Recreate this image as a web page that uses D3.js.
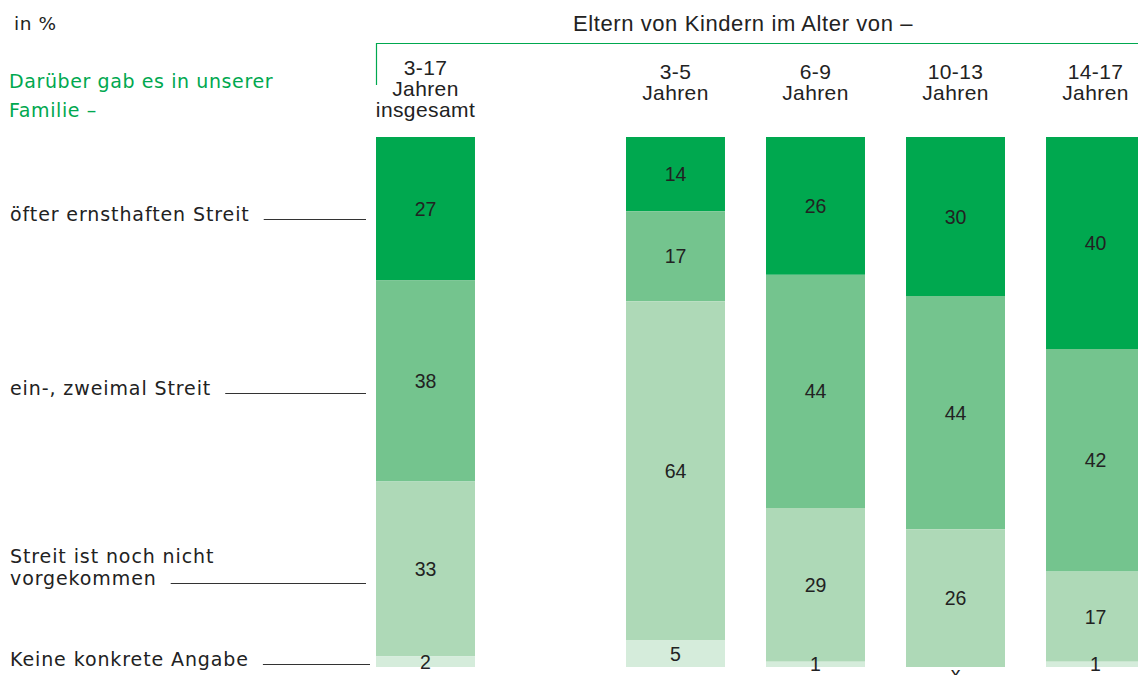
<!DOCTYPE html>
<html>
<head>
<meta charset="utf-8">
<script src="https://cdn.jsdelivr.net/npm/d3@7"></script>
<style>
  body { margin: 0; background: #fff; }
  svg { display: block; }
  .head { font-family: "Liberation Sans", Arial, sans-serif; }
  .lab { font-family: "DejaVu Sans", Verdana, sans-serif; }
  .val { font-family: "Liberation Sans", Arial, sans-serif; }
</style>
</head>
<body>
<svg width="1138" height="675"></svg>
<script>
"use strict"

// column headers (total column first, then the age groups)
const totalLabel = ["3-17", "Jahren", "insgesamt"]
const groups = ["3-5", "6-9", "10-13", "14-17"]

// answer categories, from top of the bar to bottom
const answers = [
    ["öfter ernsthaften Streit"],
    ["ein-, zweimal Streit"],
    ["Streit ist noch nicht", "vorgekommen"],
    ["Keine konkrete Angabe"]
]

// values in %, total column first; null = "x" (no value)
const often = [27, 14, 26, 30, 40]
const onceTwice = [38, 17, 44, 44, 42]
const never = [33, 64, 29, 26, 17]
const noAnswer = [2, 5, 1, null, 1]

const colors = ["#00a84f", "#74c48e", "#aed9b7", "#d5ecdb"]
const green = "#00a84f"
const textColor = "#222"

let svg = d3.select("svg")

let y = d3.scaleLinear().domain([0, 100]).range([137, 667])

let xTotal = d3.scaleBand().domain(["total"]).range([376, 475])
let xGroup = d3.scaleBand().domain(groups).range([626, 1145])
    .paddingInner(0.293).paddingOuter(0)

let columns = ["total"].concat(groups)
let colX = (c) => c === "total" ? xTotal(c) : xGroup(c)
let bw = xGroup.bandwidth()

// stack the four series per column
let series = [often, onceTwice, never, noAnswer]
let stacked = columns.map((c, i) => {
    let acc = 0
    return series.map((s, k) => {
        let v = s[i] === null ? 0 : s[i]
        let seg = {col: c, k: k, raw: s[i], y0: acc, y1: acc + v}
        acc += v
        return seg
    })
})

let bars = svg.append("g")
stacked.forEach(col => {
    bars.selectAll(null)
        .data(col)
        .enter().append("rect")
        .attr("x", d => colX(d.col))
        .attr("y", d => y(d.y0))
        .attr("width", bw)
        .attr("height", d => y(d.y1) - y(d.y0))
        .attr("fill", d => colors[d.k])

    bars.selectAll(null)
        .data(col)
        .enter().append("text")
        .attr("class", "val")
        .attr("x", d => colX(d.col) + bw / 2)
        .attr("y", d => d.raw === null ? y(100) + 7 : (y(d.y0) + y(d.y1)) / 2)
        .attr("dy", "0.36em")
        .attr("text-anchor", "middle")
        .attr("font-size", 19.5)
        .attr("fill", textColor)
        .text(d => d.raw === null ? "x" : d.raw)
})

// top header
svg.append("text")
    .attr("class", "lab")
    .attr("x", 14).attr("y", 30)
    .attr("font-size", 18.5)
    .attr("letter-spacing", 0.6)
    .attr("fill", textColor)
    .text("in %")

svg.append("text")
    .attr("class", "head")
    .attr("x", 743).attr("y", 31)
    .attr("text-anchor", "middle")
    .attr("font-size", 22)
    .attr("letter-spacing", 0.6)
    .attr("fill", textColor)
    .text("Eltern von Kindern im Alter von –")

svg.append("path")
    .attr("d", "M" + (xTotal("total") + 0.5) + ",85V43.5H1138")
    .attr("fill", "none")
    .attr("stroke", green)
    .attr("stroke-width", 1.2)

let q = svg.append("text")
    .attr("class", "lab")
    .attr("font-size", 19)
    .attr("fill", green)
    .attr("letter-spacing", 0.6)
q.append("tspan").attr("x", 9).attr("y", 88).text("Darüber gab es in unserer")
q.append("tspan").attr("x", 9).attr("y", 117).text("Familie –")

// column headers
let head = svg.append("text")
    .attr("class", "head")
    .attr("text-anchor", "middle")
    .attr("font-size", 21)
    .attr("letter-spacing", 0.4)
    .attr("fill", textColor)
totalLabel.forEach((t, i) => {
    head.append("tspan")
        .attr("x", xTotal("total") + bw / 2)
        .attr("y", 75 + i * 21)
        .text(t)
})
groups.forEach(g => {
    let t = svg.append("text")
        .attr("class", "head")
        .attr("text-anchor", "middle")
        .attr("font-size", 21)
        .attr("letter-spacing", 0.4)
        .attr("fill", textColor)
    t.append("tspan").attr("x", xGroup(g) + bw / 2).attr("y", 79).text(g)
    t.append("tspan").attr("x", xGroup(g) + bw / 2).attr("y", 100).text("Jahren")
})

// row labels with leader lines pointing at the total column
let lineOffset = [10, 12, 14, 2]
let totalSegs = stacked[0]
answers.forEach((lines, k) => {
    let s = totalSegs[k]
    let ly = Math.round((y(s.y0) + y(s.y1)) / 2 + lineOffset[k]) + 0.5
    let t = svg.append("text")
        .attr("class", "lab")
        .attr("font-size", 19)
        .attr("letter-spacing", 0.9)
        .attr("fill", textColor)
    lines.forEach((l, j) => {
        t.append("tspan")
            .attr("x", 10)
            .attr("y", ly + 1 - (lines.length - 1 - j) * 22)
            .text(l)
    })
    let w = t.select("tspan:last-child").node().getComputedTextLength()
    svg.append("line")
        .attr("x1", 10 + w + 14).attr("x2", k === 3 ? 370 : 366)
        .attr("y1", ly).attr("y2", ly)
        .attr("stroke", "#333")
        .attr("stroke-width", 1.2)
})
</script>
</body>
</html>
